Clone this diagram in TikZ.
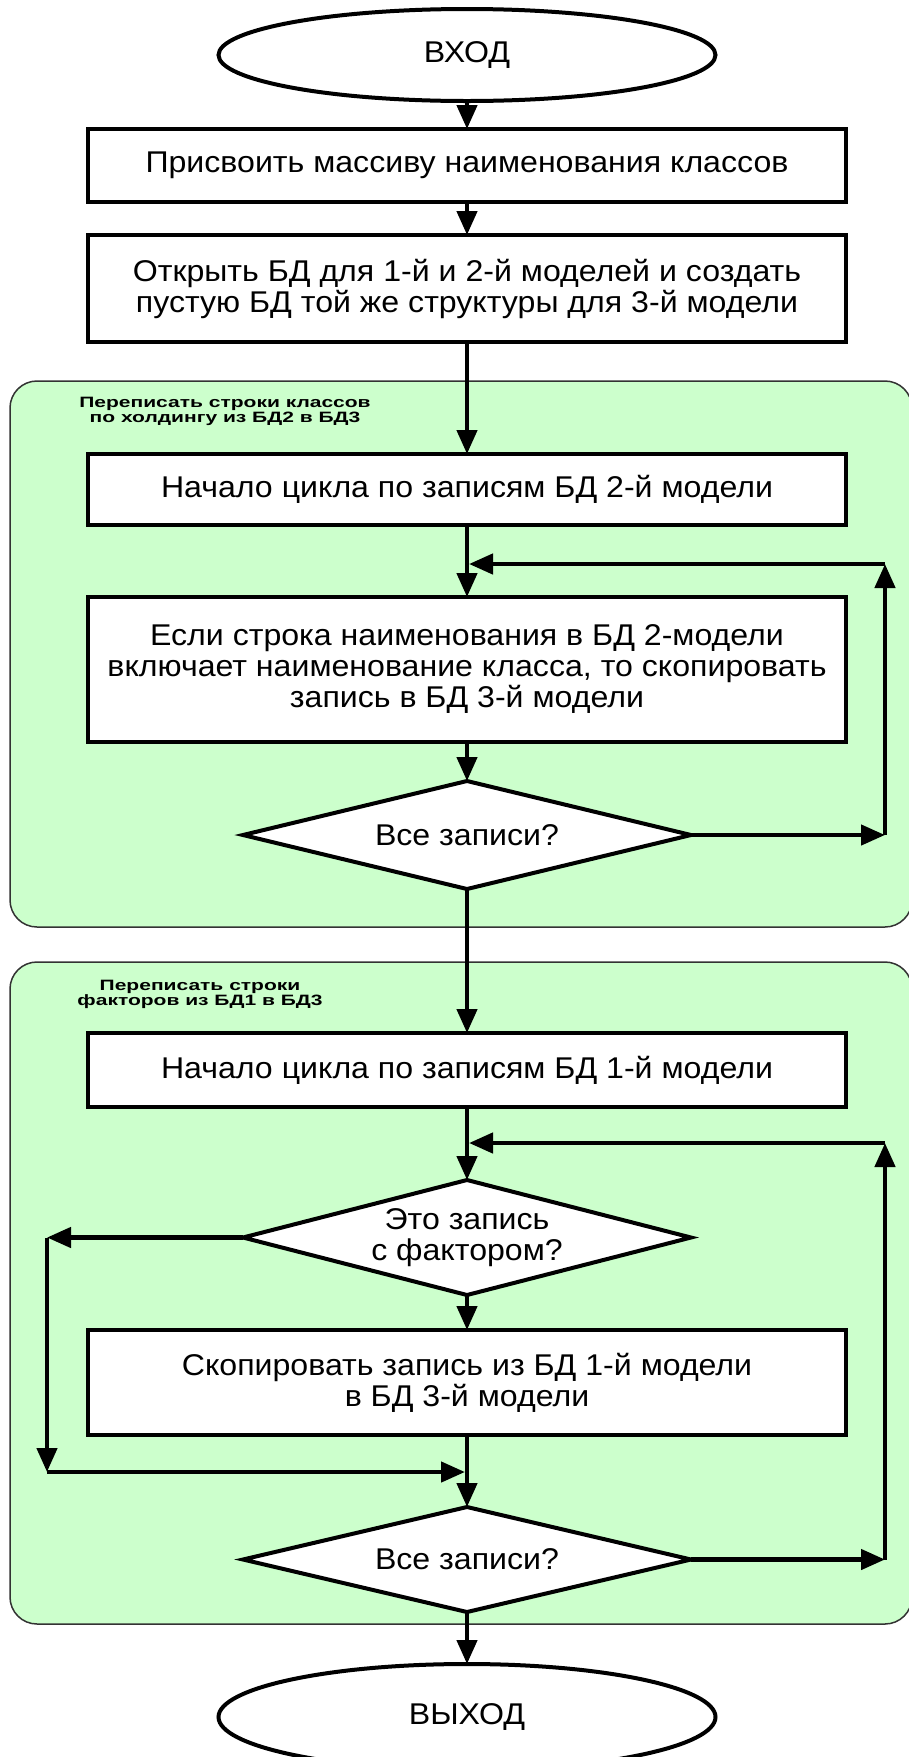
\documentclass[tikz,border=0pt]{standalone}
\usepackage{fontspec}
\setmainfont{Liberation Sans}[FakeStretch=1.07]
\newfontfamily\titlefont{Liberation Sans}[FakeStretch=1.4]
\usepackage{tikz}
\usetikzlibrary{positioning,arrows.meta,shapes.geometric}
\definecolor{groupgreen}{RGB}{204,255,204}
\tikzset{
  flow/.style={line width=4.5pt,-{Triangle[length=24pt,width=20pt]}},
  block/.style={draw,line width=4pt,fill=white,minimum width=758pt,align=center,inner sep=0pt,outer sep=0pt},
  term/.style={ellipse,draw,line width=4pt,fill=white,minimum width=497pt,minimum height=92pt,inner sep=0pt,outer sep=0pt},
  decision/.style={diamond,draw,line width=4pt,fill=white,minimum width=448pt,aspect=4.2,inner sep=0pt,outer sep=0pt,align=center},
  group/.style={draw=black!80,line width=1.5pt,fill=groupgreen,rounded corners=27pt},
  grouptitle/.style={font=\titlefont\bfseries\fontsize{15}{15}\selectfont,align=center}
}
\begin{document}
\begin{tikzpicture}[x=1pt,y=1pt,font=\fontsize{30}{31}\selectfont]
    \useasboundingbox (0,0) rectangle (909,-1757);

    % two loop areas
    \draw[group] (10,-381) rectangle (912,-927);
    \draw[group] (10,-962) rectangle (912,-1624);
    \node[grouptitle] (title1) at (225,-411) {Переписать строки классов\\по холдингу из БД2 в БД3};
    \node[grouptitle] (title2) at (200,-994) {Переписать строки\\факторов из БД1 в БД3};

    \node[term]  (start) at (467,-55) {ВХОД};
    \node[block,minimum height=73pt]  (names) [below=28pt of start] {Присвоить массиву наименования классов};
    \node[block,minimum height=107pt] (open)  [below=33pt of names] {Открыть БД для 1-й и 2-й моделей и создать\\пустую БД той же структуры для 3-й модели};
    \node[block,minimum height=71pt]  (loop2) [below=112pt of open] {Начало цикла по записям БД 2-й модели};
    \node[block,minimum height=145pt] (copy2) [below=72pt of loop2] {Если строка наименования в БД 2-модели\\включает наименование класса, то скопировать\\запись в БД 3-й модели};
    \node[decision,minimum height=108pt] (all2) [below=39pt of copy2] {Все записи?};
    \node[block,minimum height=74pt]  (loop1) [below=144pt of all2] {Начало цикла по записям БД 1-й модели};
    \node[decision,minimum height=115pt] (factor) [below=73pt of loop1] {Это запись\\с фактором?};
    \node[block,minimum height=105pt] (copy1) [below=35pt of factor] {Скопировать запись из БД 1-й модели\\в БД 3-й модели};
    \node[decision,minimum height=105pt] (all1) [below=72pt of copy1] {Все записи?};
    \node[term,minimum height=106pt]  (stop) [below=52pt of all1] {ВЫХОД};

    \coordinate (rightcol) at (885,0);
    \coordinate (leftcol) at (47,0);
    \coordinate (top2) at (885,-564);
    \coordinate (top1) at (885,-1143);
    \coordinate (skip) at (47,-1472);

    \draw[flow] (start) -- (names);
    \draw[flow] (names) -- (open);
    \draw[flow] (open) -- (loop2);
    \draw[flow] (loop2) -- (copy2);
    \draw[flow] (copy2) -- (all2);
    \draw[flow] (all2) -- (loop1);
    \draw[flow] (loop1) -- (factor);
    \draw[flow] (factor) -- (copy1);
    \draw[flow] (copy1) -- (all1);
    \draw[flow] (all1) -- (stop);

    % back to the start of loop 2
    \draw[flow] (all2.east) -- (all2.east -| rightcol);
    \draw[flow] (all2.east -| rightcol) -- (top2);
    \draw[flow,shorten >=2pt] (top2) -- (start |- top2);

    % no factor: go round the copy
    \draw[flow] (factor.west) -- (factor.west -| leftcol);
    \draw[flow] (factor.west -| leftcol) -- (skip);
    \draw[flow,shorten >=2pt] (skip) -- (start |- skip);

    % back to the start of loop 1
    \draw[flow] (all1.east) -- (all1.east -| rightcol);
    \draw[flow] (all1.east -| rightcol) -- (top1);
    \draw[flow,shorten >=2pt] (top1) -- (start |- top1);
\end{tikzpicture}
\end{document}
